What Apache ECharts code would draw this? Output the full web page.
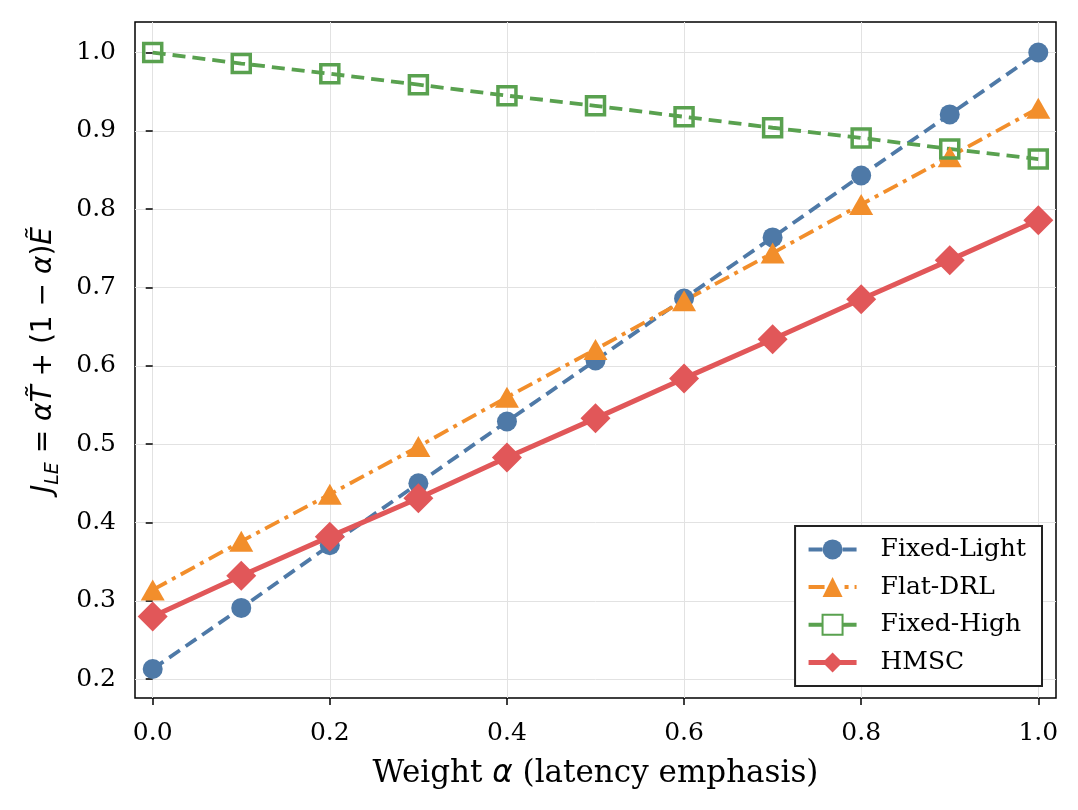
<!DOCTYPE html>
<html>
<head>
<meta charset="utf-8">
<script src="https://cdn.jsdelivr.net/npm/echarts@6/dist/echarts.min.js"></script>
<style>
  html, body { margin: 0; padding: 0; background: #fff; }
  #chart { width: 1078px; height: 810px; }
</style>
</head>
<body>
<div id="chart"></div>
<script>
// weight alpha on the x axis, one objective value per method
const alphas = [0.0, 0.1, 0.2, 0.3, 0.4, 0.5, 0.6, 0.7, 0.8, 0.9, 1.0];
const fixedLight = [0.213, 0.291, 0.371, 0.450, 0.529, 0.607, 0.686, 0.764, 0.843, 0.921, 1.000];
const flatDRL = [0.314, 0.376, 0.436, 0.497, 0.560, 0.621, 0.683, 0.744, 0.806, 0.867, 0.929];
const fixedHigh = [1.000, 0.986, 0.973, 0.959, 0.945, 0.932, 0.918, 0.904, 0.891, 0.877, 0.864];
const hmsc = [0.280, 0.332, 0.382, 0.431, 0.483, 0.533, 0.584, 0.634, 0.685, 0.735, 0.786];

const xTicks = [0.0, 0.2, 0.4, 0.6, 0.8, 1.0];
const yTicks = [0.2, 0.3, 0.4, 0.5, 0.6, 0.7, 0.8, 0.9, 1.0];

const serif = 'DejaVu Serif';
const sans = 'DejaVu Sans';

const pts = (ys) => alphas.map((a, i) => [a, ys[i]]);

const axisCommon = {
  type: 'value',
  axisLine: { show: false },
  axisTick: { show: true, inside: false, length: 7, lineStyle: { color: '#000', width: 1.5 } },
  splitLine: { show: true, lineStyle: { color: '#e2e2e2', width: 1 } },
};

const chart = echarts.init(document.getElementById('chart'), null, { renderer: 'canvas' });
chart.setOption({
  backgroundColor: '#fff',
  animation: false,
  grid: {
    left: 135, right: 22, top: 22, bottom: 112,
    show: true, borderColor: '#000', borderWidth: 1.5, backgroundColor: 'transparent',
  },
  xAxis: {
    ...axisCommon,
    min: -0.02,
    max: 1.02,
    axisTick: { ...axisCommon.axisTick, customValues: xTicks },
    axisLabel: {
      customValues: xTicks,
      formatter: (v) => v.toFixed(1),
      color: '#000', fontFamily: serif, fontSize: 25, margin: 23,
    },
    name: 'Weight {a|α} (latency emphasis)',
    nameLocation: 'middle',
    nameGap: 60,
    nameTextStyle: {
      color: '#000', fontFamily: serif, fontSize: 31,
      rich: { a: { fontFamily: sans, fontStyle: 'italic', fontSize: 31, color: '#000' } },
    },
  },
  yAxis: {
    ...axisCommon,
    min: 0.176,
    max: 1.039,
    axisTick: { ...axisCommon.axisTick, customValues: yTicks },
    axisLabel: {
      customValues: yTicks,
      formatter: (v) => v.toFixed(1),
      color: '#000', fontFamily: serif, fontSize: 25, margin: 19,
    },
    name: '{i|J}{s|LE}{n| = }{i|α}{i|T\u0303}{n| + (1 − }{i|α}{n|)}{i|\u1EBC}',
    nameLocation: 'middle',
    nameRotate: 90,
    nameGap: 72,
    nameTextStyle: {
      rich: {
        i: { fontFamily: sans, fontStyle: 'italic', fontSize: 28, color: '#000', lineHeight: 38 },
        n: { fontFamily: sans, fontSize: 28, color: '#000', lineHeight: 38 },
        s: { fontFamily: sans, fontStyle: 'italic', fontSize: 19, color: '#000', lineHeight: 19, verticalAlign: 'bottom' },
      },
    },
  },
  legend: {
    orient: 'vertical',
    right: 36,
    bottom: 124,
    backgroundColor: '#fff',
    borderColor: '#222',
    borderWidth: 2,
    borderRadius: 0,
    padding: [11, 16, 11, 11],
    itemWidth: 48,
    itemHeight: 25,
    itemGap: 12.7,
    textStyle: { fontFamily: serif, fontSize: 25, color: '#000', padding: [0, 0, 0, 19] },
    data: [
      { name: 'Fixed-Light', lineStyle: { width: 4, type: [14, 20] } },
      { name: 'Flat-DRL', lineStyle: { width: 4, type: [16, 20, 4, 6] } },
      { name: 'Fixed-High', lineStyle: { width: 4, type: [14, 20] } },
      { name: 'HMSC', lineStyle: { width: 5, type: 'solid' } },
    ],
  },
  series: [
    {
      name: 'Fixed-Light',
      type: 'line',
      data: pts(fixedLight),
      symbol: 'circle',
      symbolSize: 20,
      lineStyle: { color: '#4e79a7', width: 3.8, type: [13, 7] },
      itemStyle: { color: '#4e79a7' },
    },
    {
      name: 'Flat-DRL',
      type: 'line',
      data: pts(flatDRL),
      symbol: 'triangle',
      symbolSize: [24, 21],
      lineStyle: { color: '#f28e2b', width: 3.8, type: [16, 6, 4, 6] },
      itemStyle: { color: '#f28e2b' },
    },
    {
      name: 'Fixed-High',
      type: 'line',
      data: pts(fixedHigh),
      symbol: 'rect',
      symbolSize: 18,
      lineStyle: { color: '#59a14f', width: 3.8, type: [13, 7] },
      itemStyle: { color: 'rgba(255,255,255,0)', borderColor: '#59a14f', borderWidth: 3.5 },
    },
    {
      name: 'HMSC',
      type: 'line',
      data: pts(hmsc),
      symbol: 'diamond',
      symbolSize: 30,
      lineStyle: { color: '#e15759', width: 5 },
      itemStyle: { color: '#e15759' },
    },
  ],
});

window.addEventListener('resize', () => chart.resize());
</script>
</body>
</html>
